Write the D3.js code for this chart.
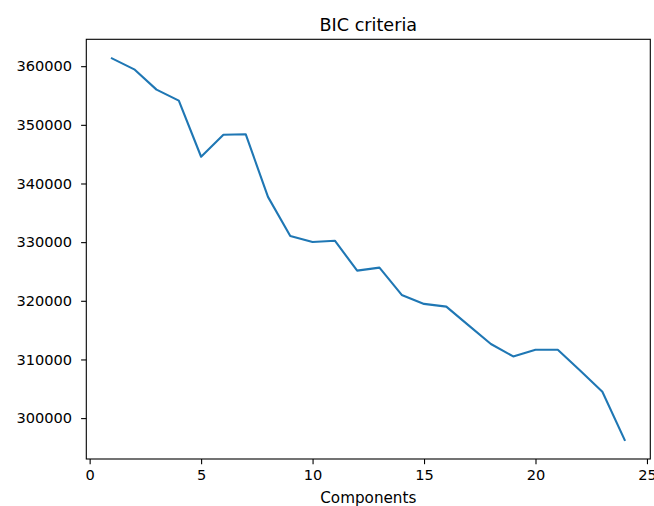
<!DOCTYPE html>
<html>
<head>
<meta charset="utf-8">
<script src="https://cdn.jsdelivr.net/npm/d3@7"></script>
<style>
  body { margin: 0; background: #fff; }
  text { font-family: "DejaVu Sans", sans-serif; fill: #000; }
</style>
</head>
<body>
<div id="bic_chart"></div>
<script>
// data
const components = [1,2,3,4,5,6,7,8,9,10,11,12,13,14,15,16,17,18,19,20,21,22,23,24];
const bicValues = [361330, 359460, 356000, 354130, 344560, 348300, 348400, 337720,
                   331040, 330020, 330240, 325140, 325650, 321000, 319470, 319010,
                   315810, 312630, 310520, 311660, 311660, 308110, 304490, 296280];
const xTicks = [0, 5, 10, 15, 20, 25];
const yTicks = [300000, 310000, 320000, 330000, 340000, 350000, 360000];

// set the dimensions and margins of the graph
const margin = {top: 39.3, right: 3.7, bottom: 47, left: 86.3},
      width = 654 - margin.left - margin.right,
      height = 506 - margin.top - margin.bottom;

const svg = d3.select("#bic_chart")
  .append("svg")
    .attr("width", 654)
    .attr("height", 506)
  .append("g")
    .attr("transform", `translate(${margin.left},${margin.top})`);

// matplotlib style 5% margins
const xExt = d3.extent(components), yExt = d3.extent(bicValues);
const xPad = (xExt[1] - xExt[0]) * 0.05, yPad = (yExt[1] - yExt[0]) * 0.05;

const x = d3.scaleLinear()
  .domain([xExt[0] - xPad, xExt[1] + xPad])
  .range([0, width]);
const y = d3.scaleLinear()
  .domain([yExt[0] - yPad, yExt[1] + yPad])
  .range([height, 0]);

// X axis
const xAxis = svg.append("g")
  .attr("transform", `translate(0,${height})`)
  .call(d3.axisBottom(x).tickValues(xTicks).tickSize(5.2).tickPadding(5.2).tickFormat(d3.format("d")));
// Y axis
const yAxis = svg.append("g")
  .call(d3.axisLeft(y).tickValues(yTicks).tickSize(5.2).tickPadding(9).tickFormat(d3.format("d")));

[xAxis, yAxis].forEach(a => {
  a.select(".domain").remove();
  a.selectAll(".tick line").attr("stroke", "#000").attr("stroke-width", 1.1);
  a.selectAll(".tick text").style("font-size", "14.6px").attr("fill", "#000");
});

// the line
svg.append("path")
  .datum(components.map((c, i) => [c, bicValues[i]]))
  .attr("fill", "none")
  .attr("stroke", "#1f77b4")
  .attr("stroke-width", 2.1)
  .attr("stroke-linejoin", "round")
  .attr("stroke-linecap", "square")
  .attr("d", d3.line().x(d => x(d[0])).y(d => y(d[1])));

// frame
svg.append("rect")
  .attr("width", width)
  .attr("height", height)
  .attr("fill", "none")
  .attr("stroke", "#000")
  .attr("stroke-width", 1.1);

// title and label
svg.append("text")
  .attr("x", width / 2)
  .attr("y", -8.6)
  .attr("text-anchor", "middle")
  .style("font-size", "17.6px")
  .text("BIC criteria");

svg.append("text")
  .attr("x", width / 2)
  .attr("y", height + 44.5)
  .attr("text-anchor", "middle")
  .style("font-size", "15.2px")
  .text("Components");
</script>
</body>
</html>
